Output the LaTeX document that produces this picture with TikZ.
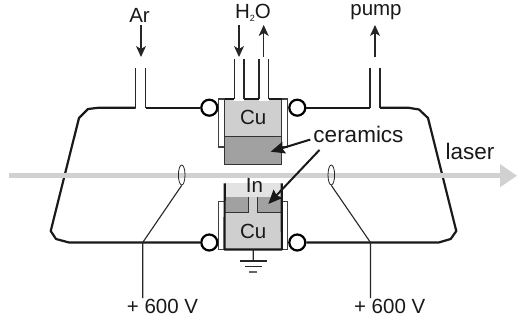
\documentclass[tikz,border=0pt]{standalone}
\usepackage{fontspec}
\setmainfont{Liberation Sans}
\usetikzlibrary{arrows.meta,shapes.geometric}
\definecolor{cubody}{gray}{0.81}
\definecolor{cerdark}{gray}{0.63}
\definecolor{inlight}{gray}{0.89}
\definecolor{beamgray}{gray}{0.82}
\tikzset{
	wall/.style={line width=2.2pt, black!90, line join=round},
	thinline/.style={line width=1.1pt, black!85},
	flow/.style={line width=1.2pt, black!85, -{Stealth[length=11pt,width=10pt,inset=3pt]}},
	pointer/.style={line width=2pt, black!90, -{Stealth[length=14pt,width=12pt,inset=2pt]}},
	oring/.style={circle, draw, line width=2.2pt, fill=white, minimum size=16pt, inner sep=0pt},
	flange/.style={rectangle, draw=black!75, line width=1.1pt, fill=white, inner sep=0pt, minimum width=6pt},
	lbl/.style={font=\fontsize{20.5}{24}\selectfont, text=black!90, inner sep=1pt},
	biglbl/.style={font=\fontsize{22.5}{26}\selectfont, text=black!90, inner sep=3pt},
	block/.style={rectangle, inner sep=0pt, minimum width=57pt, font=\fontsize{20.5}{24}\selectfont, text=black!90}
}
\begin{document}
\begin{tikzpicture}[x=1pt,y=-1pt]
	\useasboundingbox (0,0) rectangle (517,320);
	% upper electrode
	\node[flange, minimum height=48pt] (flangeTL) at (221.7,123) {};
	\node[flange, minimum height=48pt] (flangeTR) at (284.7,123) {};
	\node[block, fill=cubody, minimum height=37pt] (cuT) at (253.2,117.5) {Cu};
	\node[block, fill=cerdark, minimum height=28.7pt] (cerT) at (253.2,150.35) {};
	\draw[black!80, line width=1.1pt] (cuT.north west) -- (cerT.south west) -- (cerT.south east) -- (cuT.north east);
	\draw[black!80, line width=0.8pt] (cuT.south west) -- (cuT.south east);
	\draw[wall] (cuT.north west) -- (cuT.north east);
	\coordinate (tubeA) at (234.3,59.3);
	\coordinate (tubeB) at (244,59.3);
	\coordinate (tubeC) at (259,59.3);
	\coordinate (tubeD) at (268.7,59.3);
	\fill[white] (234.3,97) rectangle (244,101);
	\fill[white] (259,97) rectangle (268.7,101);
	\foreach \t in {tubeA,tubeB,tubeC,tubeD}
		\draw[thinline] (\t) -- (\t |- cuT.north);
	% lower electrode
	\node[flange, minimum height=48.2pt] (flangeBL) at (221.7,225.4) {};
	\node[flange, minimum height=48.2pt] (flangeBR) at (284.7,225.4) {};
	\node[block, fill=cubody, minimum height=36.6pt] (cuB) at (253.2,231) {Cu};
	\fill[inlight] (224.7,183.3) rectangle (281.7,196.7);
	\fill[cerdark] (224.7,196.7) rectangle (248.3,212.7);
	\fill[cerdark] (257.7,196.7) rectangle (281.7,212.7);
	\fill[cubody] (248.3,196.7) rectangle (257.7,212.7);
	\draw[black!80, line width=1.1pt] (224.7,196.7) -- (224.7,212.7) (248.3,196.7) -- (248.3,212.7) -- (224.7,212.7) (257.7,196.7) -- (257.7,212.7) -- (281.7,212.7);
	\draw[wall] (224.7,183.3) -- (cuB.south west) -- (cuB.south east) -- (281.7,183.3);
	% ground
	\coordinate (gnd) at (253.3,261);
	\draw[thinline] (cuB.south) -- (gnd);
	\draw[thinline] ([xshift=-13.5pt]gnd) -- ([xshift=13.5pt]gnd);
	\draw[thinline] ([xshift=-8.5pt,yshift=-5.7pt]gnd) -- ([xshift=8.5pt,yshift=-5.7pt]gnd);
	\draw[thinline, black!60] ([xshift=-4pt,yshift=-11pt]gnd) -- ([xshift=4pt,yshift=-11pt]gnd);
	% chamber
	\node[oring] (ringTL) at (209.3,107.7) {};
	\node[oring] (ringTR) at (297.3,107.7) {};
	\node[oring] (ringBL) at (209.3,242.5) {};
	\node[oring] (ringBR) at (297.3,242.5) {};
	\coordinate (arA) at (135.7,68);
	\coordinate (arB) at (145.7,68);
	\coordinate (pumpA) at (370,68);
	\coordinate (pumpB) at (380,68);
	\foreach \t in {arA,arB,pumpA,pumpB}
		\draw[thinline] (\t) -- (\t |- ringTL);
	\draw[wall] (ringTL.west) -- (arB |- ringTL);
	\draw[wall] (arA |- ringTL) -- (99,107.7) -- (88,109) -- (79,118) -- (50.7,231) -- (56,239) -- (69,242.5) -- (ringBL.west);
	\draw[wall] (ringTR.east) -- (pumpA |- ringTR);
	\draw[wall] (pumpB |- ringTR) -- (408,107.7) -- (419,109.5) -- (428,118) -- (456.3,231) -- (450.7,239) -- (438.7,242.5) -- (ringBR.east);
	% beam
	\coordinate (beamstart) at (9.3,175.7);
	\coordinate (beamend) at (517,175.7);
	\draw[beamgray, line width=5pt, -{Triangle[length=17pt,width=22pt]}] (beamstart) -- (beamend);
	% rings and supply
	\node[ellipse, draw=black!85, line width=0.8pt, minimum width=6.6pt, minimum height=20pt, inner sep=0pt] (probeL) at (181.7,175) {};
	\node[ellipse, draw=black!85, line width=0.8pt, minimum width=6.6pt, minimum height=20pt, inner sep=0pt] (probeR) at (331.3,175) {};
	\node[lbl] (voltL) at (162.5,306.5) {+ 600 V};
	\node[lbl] (voltR) at (389.7,306.5) {+ 600 V};
	\coordinate (tapL) at (142.7,242.5);
	\coordinate (tapR) at (370.5,242.5);
	\draw[thinline] (probeL.south) -- (tapL) -- (tapL |- voltL.north);
	\draw[thinline] (probeR.south) -- (tapR) -- (tapR |- voltR.north);
	% labels
	\node[lbl] (ar) at (139.5,15) {Ar};
	\node[lbl] (water) at (253,13) {H\raisebox{-3pt}{\fontsize{9}{9}\selectfont 2}O};
	\node[lbl] (pump) at (376,12) {pump};
	\node[biglbl] (ceramics) at (358.5,134.5) {ceramics};
	\node[biglbl] (laser) at (470,151) {laser};
	\node[lbl] (indium) at (254.5,185) {In};
	\coordinate (arhead) at (141,57);
	\coordinate (inhead) at (239,57);
	\coordinate (outtail) at (263.7,57);
	\coordinate (pumptail) at (375,57);
	\draw[flow] (arhead |- 0,25) -- (arhead);
	\draw[flow] (inhead |- 0,25) -- (inhead);
	\draw[flow] (outtail) -- (outtail |- 0,25);
	\draw[flow] (pumptail) -- (pumptail |- 0,25);
	\coordinate (cerpointT) at (270.7,151.7);
	\coordinate (cerpointB) at (268.3,204);
	\draw[pointer] (ceramics.186) -- (cerpointT);
	\draw[pointer] ([xshift=-39pt,yshift=-4pt]ceramics.south) -- (cerpointB);
\end{tikzpicture}
\end{document}
